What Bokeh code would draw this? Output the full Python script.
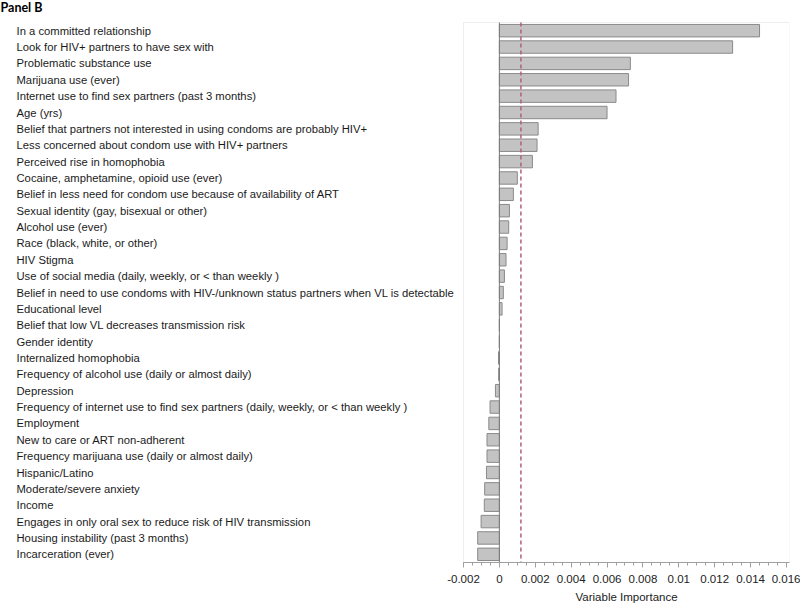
from bokeh.plotting import figure
from bokeh.models import ColumnDataSource, Range1d, FixedTicker, BoxAnnotation, Title
from bokeh.core.properties import value
from bokeh.embed import file_html
from bokeh.resources import INLINE
import numpy as np

variables = [
    "In a committed relationship",
    "Look for HIV+ partners to have sex with",
    "Problematic substance use",
    "Marijuana use (ever)",
    "Internet use to find sex partners (past 3 months)",
    "Age (yrs)",
    "Belief that partners not interested in using condoms are probably HIV+",
    "Less concerned about condom use with HIV+ partners",
    "Perceived rise in homophobia",
    "Cocaine, amphetamine, opioid use (ever)",
    "Belief in less need for condom use because of availability of ART",
    "Sexual identity (gay, bisexual or other)",
    "Alcohol use (ever)",
    "Race (black, white, or other)",
    "HIV Stigma",
    "Use of social media (daily, weekly, or < than weekly )",
    "Belief in need to use condoms with HIV-/unknown status partners when VL is detectable",
    "Educational level",
    "Belief that low VL decreases transmission risk",
    "Gender identity",
    "Internalized homophobia",
    "Frequency of alcohol use (daily or almost daily)",
    "Depression",
    "Frequency of internet use to find sex partners (daily, weekly, or < than weekly )",
    "Employment",
    "New to care or ART non-adherent",
    "Frequency marijuana use (daily or almost daily)",
    "Hispanic/Latino",
    "Moderate/severe anxiety",
    "Income",
    "Engages in only oral sex to reduce risk of HIV transmission",
    "Housing instability (past 3 months)",
    "Incarceration (ever)",
]

importance = [
    0.0145, 0.0130, 0.0073, 0.0072, 0.0065, 0.0060, 0.00216, 0.0021, 0.00184,
    0.0010, 0.00078, 0.00056, 0.00052, 0.00043, 0.00037, 0.00028, 0.00022,
    0.00015, 0.0, 0.0, -0.00005, -0.00004, -0.00022, -0.00052, -0.00059,
    -0.00069, -0.00069, -0.00072, -0.00082, -0.00084, -0.00102, -0.00121,
    -0.00121,
]

threshold = 0.0012

x_ticks = [-0.002, 0, 0.002, 0.004, 0.006, 0.008, 0.01, 0.012, 0.014, 0.016]
x_tick_labels = ["-0.002", "0", "0.002", "0.004", "0.006", "0.008", "0.01",
                 "0.012", "0.014", "0.016"]
x_title = "Variable Importance"
panel_title = "Panel B"

n = len(variables)
rank = list(range(n))
source = ColumnDataSource(dict(var=variables, imp=importance, rank=rank))

# ---- layout (pixels) ----
W, H = 800, 610
TOP, BOTTOM, RIGHT = 22, 48, 11
PLOT_LEFT = 463          # where the bar panel starts
LABEL_X = 16             # where the variable names start
XTITLE_X = 575           # where the x-axis title starts
PANEL_TITLE_Y = 7        # vertical centre of "Panel B"
x_lo, x_hi = -0.002, 0.01617

frame_w = W - RIGHT
px_per_unit = (frame_w - PLOT_LEFT) / (x_hi - x_lo)
x_start = x_lo - PLOT_LEFT / px_per_unit
label_x = x_start + LABEL_X / px_per_unit

px_per_row = (H - BOTTOM - TOP) / n
y_top = -0.5 - TOP / px_per_row
y_bottom = n - 0.5
title_y = y_top + PANEL_TITLE_Y / px_per_row

p = figure(width=W, height=H, output_backend="svg", toolbar_location=None,
           y_range=Range1d(y_bottom, y_top), x_range=Range1d(x_start, x_hi),
           min_border_left=0, min_border_right=RIGHT, min_border_top=0,
           min_border_bottom=BOTTOM)

# bar-panel frame
p.add_layout(BoxAnnotation(left=x_lo, right=x_hi, top=-0.5, bottom=y_bottom,
                           fill_color=None, line_color="#c8c8c8", line_width=1,
                           level="underlay"))

p.hbar(y="rank", left=0, right="imp", height=0.76, source=source,
       fill_color="#c3c3c3", line_color="#8a8a8a", line_width=1)

# zero line and threshold line
p.segment(x0=[0], y0=[-0.5], x1=[0], y1=[y_bottom], line_color="#7a7a7a",
          line_width=1)
p.segment(x0=[threshold], y0=[-0.5], x1=[threshold], y1=[y_bottom],
          line_color="#b0607e", line_width=1.5, line_dash="4 3")

p.text(x=label_x, y="rank", text="var", source=source, text_align="left",
       text_baseline="middle", text_font=value("Liberation Sans"),
       text_font_size="11.25px", text_color="#1a1a1a")

p.text(x=[x_start], y=[title_y], text=[panel_title], text_align="left",
       text_baseline="middle", text_font=value("Lato"), text_font_style="bold",
       text_font_size="12.5px", text_color="#000000")

p.yaxis.visible = False
p.xgrid.visible = False
p.ygrid.visible = False
p.outline_line_color = None

minor = [float(v) for v in np.round(np.arange(-0.002, 0.0165, 0.0005), 6)]
p.xaxis.bounds = (x_lo, x_hi)
p.xaxis.ticker = FixedTicker(ticks=x_ticks, minor_ticks=minor)
p.xaxis.major_label_overrides = {t: l for t, l in zip(x_ticks, x_tick_labels)}
p.xaxis.major_label_text_font = "Liberation Sans"
p.xaxis.major_label_text_font_size = "11.5px"
p.xaxis.major_label_text_color = "#222222"
p.xaxis.major_label_standoff = 7
p.xaxis.axis_line_color = "#a0a0a0"
p.xaxis.major_tick_line_color = "#a0a0a0"
p.xaxis.minor_tick_line_color = "#a0a0a0"
p.xaxis.major_tick_in = 0
p.xaxis.major_tick_out = 5
p.xaxis.minor_tick_in = 0
p.xaxis.minor_tick_out = 3

p.add_layout(Title(text=x_title, align="left", offset=XTITLE_X, standoff=7,
                   text_font="Liberation Sans", text_font_style="normal",
                   text_font_size="11.5px", text_color="#222222"), "below")

open("out.html", "w").write(file_html(p, INLINE))
